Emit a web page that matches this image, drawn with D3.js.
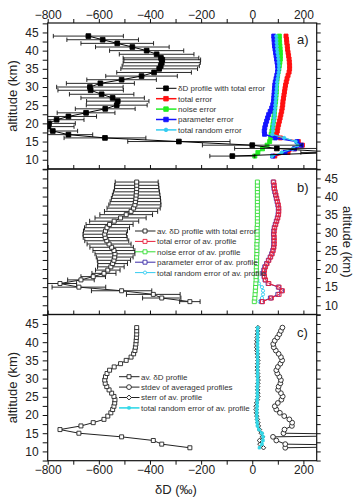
<!DOCTYPE html>
<html>
<head>
<meta charset="utf-8">
<script src="https://cdn.jsdelivr.net/npm/d3@7"></script>
<style>
body { margin: 0; background: #fff; }
text { font-family: "Liberation Sans", Arial, sans-serif; fill: #222; }
</style>
</head>
<body>
<div id="chart"></div>
<script>
// tick labels
var xMajor = [-800, -600, -400, -200, 0, 200];
var xMinor = [-800, -700, -600, -500, -400, -300, -200, -100, 0, 100, 200];
var yMajor = [10, 15, 20, 25, 30, 35, 40, 45];
var yMinor = [7.5, 10, 12.5, 15, 17.5, 20, 22.5, 25, 27.5, 30, 32.5, 35, 37.5, 40, 42.5, 45, 47.5];

// panel a: single profile (filled squares) with total error bars
var altA   = [44, 43, 42, 41, 40, 39, 38, 37.5, 36.7, 35.8, 35, 34, 33, 32, 31, 30, 29.1, 28, 27, 26.1, 25, 24, 22.9, 21.9, 21, 20, 19.1, 17.9, 16.9, 16, 15, 14, 13.1, 12, 11];
var deltaA = [-641, -585, -528, -469, -413, -374, -357, -352, -354, -358, -364, -384, -433, -511, -594, -635, -632, -589, -546, -526, -530, -575, -650, -719, -765, -795, -797, -780, -719, -576, -287, 0, 96, 330, -78];
var errA   = [137, 140, 142, 144, 145, 146, 148, 150, 151, 151, 150, 146, 140, 136, 133, 130, 128, 126, 124, 122, 119, 117, 113, 110, 107, 103, 100, 97, 95, 160, 200, 195, 165, 140, 88];

// retrieval grid used by the error profiles and the averages
var altGrid = [11, 12, 13, 14, 15, 16, 17, 17.9, 18.8, 19.7, 20.6, 21.5, 22.4, 23.3, 24.2, 25.1, 26.0, 26.9, 27.8, 28.7, 29.6, 30.5, 31.4, 32.3, 33.2, 34.1, 35.0, 35.9, 36.8, 37.7, 38.6, 39.5, 40.4, 41.3, 42.2, 43.1, 44.0];

var totalErrA  = [88, 140, 165, 196, 180, 110, 95, 98, 100, 103, 106, 109, 112, 115, 117, 119, 120, 122, 124, 126, 128, 130, 133, 136, 140, 144, 146, 146, 145, 144, 142, 140, 138, 137, 135, 134, 132];
var noiseErrA  = [10, 22, 40, 58, 68, 72, 74, 77, 79, 81, 83, 85, 86, 87, 88, 89, 91, 92, 93, 94, 94, 95, 96, 97, 99, 101, 104, 106, 108, 110, 110, 110, 109, 108, 107, 106, 106];
var paramErrA  = [80, 128, 165, 192, 175, 90, 48, 47, 49, 52, 56, 60, 64, 70, 76, 80, 83, 84, 85, 86, 87, 88, 90, 93, 96, 99, 100, 99, 97, 95, 93, 91, 89, 87, 86, 85, 84];
var randomErrA = [77, 115, 158, 177, 170, 125, 78, 80, 81, 82, 84, 86, 87, 88, 89, 90, 91, 92, 93, 94, 95, 96, 97, 99, 101, 103, 104, 104, 103, 102, 100, 98, 97, 96, 95, 95, 94];

// panel b: averaged profile and its errors
var avDelta    = [-244, -354, -387, -511, -678, -752, -670, -622, -580, -565, -553, -546, -541, -538, -537, -541, -550, -560, -569, -575, -577, -574, -568, -558, -540, -515, -493, -474, -464, -459, -457, -455, -454, -453, -452, -452, -452];
var totalErrB  = [40, 75, 105, 118, 105, 65, 52, 48, 47, 48, 52, 58, 65, 72, 78, 82, 85, 86, 86, 86, 85, 86, 88, 92, 96, 100, 103, 104, 104, 102, 99, 96, 93, 90, 87, 86, 84];
var noiseErrB  = [8, 10, 11, 12, 13, 14, 15, 15, 16, 16, 16, 17, 17, 17, 18, 18, 18, 18, 19, 19, 19, 19, 19, 20, 20, 20, 20, 20, 20, 20, 20, 20, 20, 20, 20, 20, 20];
var paramErrB  = [37, 71, 100, 114, 102, 62, 50, 46, 44, 45, 49, 56, 63, 70, 76, 80, 83, 84, 84, 84, 83, 84, 86, 90, 94, 98, 101, 102, 102, 100, 97, 94, 91, 88, 85, 84, 82];
var randomErrB = [28, 38, 42, 42, 38, 26, 20, 19, 18, 18, 18, 18, 19, 19, 19, 20, 20, 20, 20, 21, 21, 21, 21, 21, 21, 21, 21, 21, 21, 21, 21, 21, 21, 21, 21, 21, 21];

// panel c: spread of the averaged profiles
var stdevAlt = [11, 11.5, 12, 13, 14, 14.5, 15, 16, 17, 17.9, 18.8, 19.7, 20.6, 21.5, 22.4, 23.3, 24.2, 25.1, 26.0, 26.9, 27.8, 28.7, 29.6, 30.5, 31.4, 32.3, 33.2, 34.1, 35.0, 35.9, 36.8, 37.7, 38.6, 39.5, 40.4, 41.3, 42.2, 43.1, 44.0];
var stdevVal = [129, 600, 129, 94, 81, 600, 122, 126, 155, 156, 145, 125, 108, 94, 88, 100, 114, 119, 112, 101, 103, 110, 112, 106, 98, 94, 100, 110, 117, 112, 103, 92, 84, 82, 88, 98, 106, 112, 118];
var sterrVal = [44, 30, 28, 40, 35, 28, 24, 22, 20, 18, 16, 15, 15, 17, 20, 22, 22, 21, 21, 22, 23, 22, 21, 20, 20, 21, 22, 21, 20, 18, 17, 17, 18, 19, 20, 21, 22];

function init(){

    var w = 355;
    var h = 497;
    var x0 = 47.7, x1 = 316.7;

    var xScale = d3.scaleLinear()
                    .domain([-800, 252])
                    .range([x0, x1]);

    var panels = [
        {top: 23, bottom: 169, label: "a)"},
        {top: 169, bottom: 314.5, label: "b)"},
        {top: 314.5, bottom: 460.7, label: "c)"}
    ];

    var svg = d3.select("#chart")
                .append("svg")
                .attr("width", w)
                .attr("height", h);

    var defs = svg.append("defs");

    panels.forEach(function(p, i) {
        p.y = d3.scaleLinear().domain([7.45, 47.6]).range([p.bottom, p.top]);
        defs.append("clipPath").attr("id", "clip" + i)
            .append("rect")
            .attr("x", x0).attr("y", p.top)
            .attr("width", x1 - x0).attr("height", p.bottom - p.top);
        p.plot = svg.append("g").attr("clip-path", "url(#clip" + i + ")");
    });

    function pts(alts, vals) {
        return alts.map(function(a, i) { return {alt: a, v: vals[i]}; });
    }

    function sym(type, size) {
        var t = type === "circle" ? d3.symbolCircle : d3.symbolSquare;
        return d3.symbol().type(t).size(size)();
    }

    // line + markers for one series
    function series(p, data, o) {
        var line = d3.line()
            .x(function(d) { return xScale(d.v); })
            .y(function(d) { return p.y(d.alt); });
        p.plot.append("path")
            .datum(data)
            .attr("d", line)
            .attr("fill", "none")
            .attr("stroke", o.line || o.color)
            .attr("stroke-width", o.lw || 1);
        p.plot.selectAll(null)
            .data(data)
            .enter()
            .append("path")
            .attr("d", sym(o.shape, o.size))
            .attr("transform", function(d) {
                return "translate(" + xScale(d.v) + "," + p.y(d.alt) + ")" + (o.rotate ? " rotate(45)" : "");
            })
            .attr("fill", o.fill)
            .attr("stroke", o.color)
            .attr("stroke-width", o.sw || 0.9);
    }

    function errorBars(p, data, errs, cap) {
        var g = p.plot.append("g").attr("stroke", "#111").attr("stroke-width", 0.9);
        data.forEach(function(d, i) {
            var xa = xScale(d.v - errs[i]), xb = xScale(d.v + errs[i]), yy = p.y(d.alt);
            g.append("line").attr("x1", xa).attr("x2", xb).attr("y1", yy).attr("y2", yy);
            g.append("line").attr("x1", xa).attr("x2", xa).attr("y1", yy - cap).attr("y2", yy + cap);
            g.append("line").attr("x1", xb).attr("x2", xb).attr("y1", yy - cap).attr("y2", yy + cap);
        });
    }

    function legend(lx, ly, entries) {
        var g = svg.append("g");
        entries.forEach(function(e, i) {
            var yy = ly + i * 10.4;
            g.append("line").attr("x1", lx).attr("x2", lx + 20.5)
                .attr("y1", yy).attr("y2", yy)
                .attr("stroke", e.line || e.color).attr("stroke-width", e.lw || 1);
            g.append("path").attr("d", sym(e.shape, e.size))
                .attr("transform", "translate(" + (lx + 10) + "," + yy + ")" + (e.rotate ? " rotate(45)" : ""))
                .attr("fill", e.fill).attr("stroke", e.color).attr("stroke-width", 0.9);
            g.append("text").attr("x", lx + 22).attr("y", yy + 2.9)
                .attr("font-size", "8px").style("fill", "#333")
                .text(e.text);
        });
    }

    // ---- panel a ----
    var pa = panels[0];
    var gridA = function(vals) { return pts(altGrid, vals); };
    series(pa, gridA(totalErrA),  {color: "#ff1010", fill: "#ff1010", shape: "square", size: 16, lw: 1.5});
    series(pa, gridA(noiseErrA),  {color: "#22ee22", fill: "#22ee22", shape: "square", size: 16, lw: 1.5});
    series(pa, gridA(paramErrA),  {color: "#1414ff", fill: "#1414ff", shape: "square", size: 16, lw: 1.5});
    series(pa, gridA(randomErrA), {color: "#33ccf0", fill: "#33ccf0", shape: "circle", size: 8, lw: 1.2});
    var profA = pts(altA, deltaA);
    errorBars(pa, profA, errA, 2.2);
    series(pa, profA, {color: "#000", fill: "#000", shape: "square", size: 22, lw: 1});

    legend(156, 88.3, [
        {text: "\u03B4D profile with total error", color: "#000", fill: "#000", shape: "square", size: 22},
        {text: "total error", color: "#ff1010", fill: "#ff1010", shape: "square", size: 20, lw: 1.5},
        {text: "noise error", color: "#22ee22", fill: "#22ee22", shape: "square", size: 20, lw: 1.5},
        {text: "parameter error", color: "#1414ff", fill: "#1414ff", shape: "square", size: 20, lw: 1.5},
        {text: "total random error", color: "#33ccf0", fill: "#33ccf0", shape: "circle", size: 10, lw: 1.5}
    ]);

    // ---- panel b ----
    var pb = panels[1];
    var profB = pts(altGrid, avDelta);
    errorBars(pb, profB, totalErrB, 2.4);
    series(pb, profB, {color: "#222", fill: "#fff", shape: "square", size: 16});
    series(pb, pts(altGrid, randomErrB), {color: "#33ccf0", fill: "#fff", shape: "circle", size: 8});
    series(pb, pts(altGrid, noiseErrB),  {color: "#33dd33", fill: "#fff", shape: "square", size: 16});
    series(pb, pts(altGrid, paramErrB),  {color: "#3a2aa8", fill: "#fff", shape: "square", size: 16});
    series(pb, pts(altGrid, totalErrB),  {color: "#e8203c", fill: "none", shape: "square", size: 16});

    legend(135, 231, [
        {text: "av. \u03B4D profile with total error", color: "#222", fill: "#fff", shape: "square", size: 16},
        {text: "total error of av. profile", color: "#e8203c", fill: "#fff", shape: "square", size: 16},
        {text: "noise error of av. profile", color: "#33dd33", fill: "#fff", shape: "square", size: 16},
        {text: "parameter error of av. profile", color: "#3a2aa8", fill: "#fff", shape: "square", size: 16},
        {text: "total random error of av. profile", color: "#33ccf0", fill: "#fff", shape: "circle", size: 8}
    ]);

    // ---- panel c ----
    var pc = panels[2];
    series(pc, pts(altGrid, avDelta), {color: "#222", fill: "#fff", shape: "square", size: 16});
    series(pc, pts(stdevAlt, stdevVal), {color: "#222", fill: "#fff", shape: "circle", size: 18});
    series(pc, pts(altGrid, sterrVal), {color: "#222", fill: "#fff", shape: "square", size: 10, rotate: true});
    series(pc, pts(altGrid, randomErrB), {color: "#33d8e8", fill: "#33d8e8", shape: "square", size: 6, lw: 1.6});

    legend(119, 376.7, [
        {text: "av. \u03B4D profile", color: "#222", fill: "#fff", shape: "square", size: 16},
        {text: "stdev of averaged profiles", color: "#222", fill: "#fff", shape: "circle", size: 18},
        {text: "sterr of av. profile", color: "#222", fill: "#fff", shape: "square", size: 12, rotate: true},
        {text: "total random error of av. profile", color: "#33d8e8", fill: "#33d8e8", shape: "square", size: 6, lw: 1.6}
    ]);

    // ---- axes and frames ----
    function clean(g) {
        g.select(".domain").remove();
        g.selectAll("line").attr("stroke", "#111");
        g.selectAll("text").attr("font-size", "12px").attr("font-family", null).style("fill", "#222");
        g.attr("font-family", null);
    }

    panels.forEach(function(p, i) {
        // y ticks, left and right
        var left = svg.append("g").attr("transform", "translate(" + x0 + ",0)")
            .call(d3.axisLeft(p.y).tickValues(yMinor).tickSize(5).tickFormat(""));
        clean(left);
        var right = svg.append("g").attr("transform", "translate(" + x1 + ",0)")
            .call(d3.axisRight(p.y).tickValues(yMinor).tickSize(4).tickFormat(""));
        clean(right);

        if (i === 1) {
            var rl = svg.append("g").attr("transform", "translate(" + x1 + ",0)")
                .call(d3.axisRight(p.y).tickValues(yMajor).tickSize(0).tickPadding(8).tickFormat(d3.format("d")));
            clean(rl);
        } else {
            var ll = svg.append("g").attr("transform", "translate(" + x0 + ",0)")
                .call(d3.axisLeft(p.y).tickValues(yMajor).tickSize(0).tickPadding(9).tickFormat(d3.format("d")));
            clean(ll);
        }

        // x ticks at the bottom of every panel point upward
        if (i < 2) {
            var xb = svg.append("g").attr("transform", "translate(0," + p.bottom + ")")
                .call(d3.axisTop(xScale).tickValues(xMinor).tickSize(4).tickFormat(""));
            clean(xb);
        }

        svg.append("rect")
            .attr("x", x0).attr("y", p.top)
            .attr("width", x1 - x0).attr("height", p.bottom - p.top)
            .attr("fill", "none").attr("stroke", "#111").attr("stroke-width", 1.2);

        svg.append("text")
            .attr("x", 297).attr("y", p.top + (i === 0 ? 20.5 : (i === 1 ? 23 : 22)))
            .attr("font-size", "13px")
            .text(p.label);
    });

    // top axis of panel a
    var top = svg.append("g").attr("transform", "translate(0," + panels[0].top + ")")
        .call(d3.axisTop(xScale).tickValues(xMinor).tickSize(4).tickFormat(""));
    clean(top);
    var topL = svg.append("g").attr("transform", "translate(0," + panels[0].top + ")")
        .call(d3.axisTop(xScale).tickValues(xMajor).tickSize(0).tickPadding(4).tickFormat(d3.format("d")));
    clean(topL);

    // bottom axis of panel c
    var bot = svg.append("g").attr("transform", "translate(0," + panels[2].bottom + ")")
        .call(d3.axisBottom(xScale).tickValues(xMinor).tickSize(4).tickFormat(""));
    clean(bot);
    var botL = svg.append("g").attr("transform", "translate(0," + panels[2].bottom + ")")
        .call(d3.axisBottom(xScale).tickValues(xMajor).tickSize(0).tickPadding(5).tickFormat(d3.format("d")));
    clean(botL);

    // axis titles
    svg.append("text")
        .attr("transform", "translate(17," + ((panels[0].top + panels[0].bottom) / 2) + ") rotate(-90)")
        .attr("text-anchor", "middle").attr("font-size", "13px")
        .text("altitude (km)");
    svg.append("text")
        .attr("transform", "translate(17," + ((panels[2].top + panels[2].bottom) / 2) + ") rotate(-90)")
        .attr("text-anchor", "middle").attr("font-size", "13px")
        .text("altitude (km)");
    svg.append("text")
        .attr("transform", "translate(343," + ((panels[1].top + panels[1].bottom) / 2) + ") rotate(90)")
        .attr("text-anchor", "middle").attr("font-size", "13px")
        .text("altitude (km)");
    svg.append("text")
        .attr("x", 176).attr("y", 494)
        .attr("text-anchor", "middle").attr("font-size", "13px")
        .text("\u03B4D (\u2030)");
}
window.onload = init;
</script>
</body>
</html>
